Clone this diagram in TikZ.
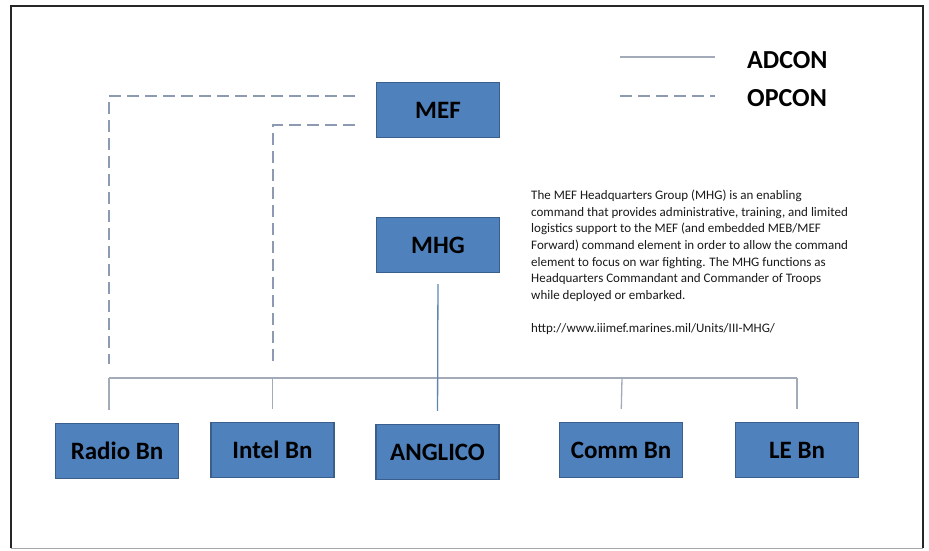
\documentclass[tikz,border=0pt]{standalone}
\usepackage{fontspec}
\setmainfont{Carlito}
\begin{document}
\begin{tikzpicture}[x=1pt,y=-1pt]
\definecolor{boxfill}{HTML}{4F81BD}
\definecolor{boxline}{HTML}{3A5F8C}
\definecolor{adconcol}{HTML}{A3ABB8}
\definecolor{opconcol}{HTML}{8C9BB2}
\definecolor{mhgcol}{HTML}{5F86B3}
\tikzset{
  unitbox/.style={draw=boxline, line width=1.2pt, fill=boxfill, minimum width=123pt, minimum height=55pt, inner sep=0pt, font=\fontsize{25}{29}\selectfont\bfseries, text=black},
  adconline/.style={draw=adconcol, line width=1.3pt},
  opconline/.style={draw=opconcol, line width=1.3pt, dash pattern=on 12pt off 6pt},
  legendtxt/.style={font=\fontsize{26}{30}\selectfont\bfseries, text=black, inner sep=0pt}
}
\useasboundingbox (0,0) rectangle (929,550);
% frame
\draw[line width=2.6pt, draw=black!85] (11,548) -- (11,6) -- (923,6) -- (923,548);
\draw[line width=1pt, draw=black!35] (11,548) -- (923,548);

% boxes
\node[unitbox] (mef) at (438,110) {MEF};
\node[unitbox] (mhg) at (438,245) {MHG};
\node[unitbox] (radio) at (117,451) {Radio Bn};
\node[unitbox] (intel) at (272.5,450) {Intel Bn};
\node[unitbox] (anglico) at (437.5,452) {ANGLICO};
\node[unitbox] (comm) at (621,450) {Comm Bn};
\node[unitbox] (lebn) at (797,450) {LE Bn};

% legend
\coordinate (la1) at (620,57);
\coordinate (la2) at (715,57);
\coordinate (lo1) at (620,96);
\coordinate (lo2) at (715,96);
\draw[adconline] (la1) -- (la2);
\draw[opconline] (lo1) -- (lo2);
\node[legendtxt, anchor=west] (adcon) at (747,60) {ADCON};
\node[legendtxt, anchor=west] (opcon) at (747,98) {OPCON};

% ADCON bus
\coordinate (busL) at (109,378);
\coordinate (busR) at (797,378);
\draw[adconline] (busL) -- (busR);
\coordinate (radtop) at (109,410);
\draw[adconline] (busL) -- (radtop);
\draw[adconline, shorten <=13pt] (intel.north) -- (intel.north |- busL);
\draw[adconline, shorten <=13pt] (comm.north) -- ([xshift=1pt]comm.north |- busL);
\draw[adconline, shorten <=13pt] (lebn.north) -- (lebn.north |- busL);
\draw[draw=mhgcol, line width=1.3pt, shorten <=11pt, shorten >=13pt] (mhg.south) -- (anglico.north);

% OPCON dashed
\coordinate (op1s) at (355,96);
\coordinate (op1c) at (109,96);
\coordinate (op1e) at (109,364);
\coordinate (op2s) at (355,125);
\coordinate (op2c) at (273,125);
\coordinate (op2e) at (273,364);
\draw[opconline] (op1s) -- (op1c) -- (op1e);
\draw[opconline] (op2s) -- (op2c) -- (op2e);

% description
\node[anchor=north west, align=left, inner sep=0pt, font=\fontsize{13}{16.6}\selectfont, text=black!90] (desc) at (531,190) {The MEF Headquarters Group (MHG) is an enabling\\command that provides administrative, training, and limited\\logistics support to the MEF (and embedded MEB/MEF\\Forward) command element in order to allow the command\\element to focus on war fighting. The MHG functions as\\Headquarters Commandant and Commander of Troops\\while deployed or embarked.\\[16.6pt]http://www.iiimef.marines.mil/Units/III-MHG/};
\end{tikzpicture}
\end{document}
